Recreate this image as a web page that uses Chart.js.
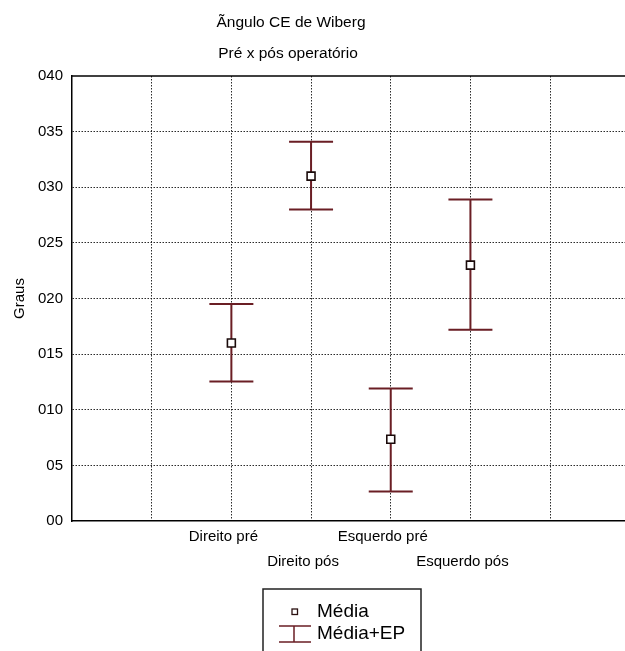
<!DOCTYPE html>
<html>
<head>
<meta charset="utf-8">
<script src="https://cdn.jsdelivr.net/npm/chart.js@4"></script>
<style>
html,body{margin:0;padding:0;overflow:hidden;background:#fff;}
canvas{display:block;}
</style>
</head>
<body>
<canvas id="c" width="637" height="651"></canvas>
<script>
const titleText = 'Ãngulo CE de Wiberg';
const subtitleText = 'Pré x pós operatório';
const yAxisTitle = 'Graus';
const categories = ['Direito pré', 'Direito pós', 'Esquerdo pré', 'Esquerdo pós'];
const positions = [2, 3, 4, 5];
const means = [16.0, 31.0, 7.35, 23.0];
const upper = [19.5, 34.1, 11.9, 28.9];
const lower = [12.55, 28.0, 2.65, 17.2];
const yTicks = [0, 5, 10, 15, 20, 25, 30, 35, 40];
const legendLabels = ['Média', 'Média+EP'];

const FONT = "'Liberation Sans', Arial, Helvetica, sans-serif";
const BAR_COLOR = '#6a1e24';

const errorBars = {
  id: 'errorBars',
  beforeDatasetsDraw(chart) {
    const {ctx, scales: {x, y}} = chart;
    ctx.save();
    ctx.strokeStyle = BAR_COLOR;
    ctx.lineWidth = 2;
    const half = 22;
    positions.forEach((p, i) => {
      const px = x.getPixelForValue(p);
      const yt = y.getPixelForValue(upper[i]);
      const yb = y.getPixelForValue(lower[i]);
      ctx.beginPath();
      ctx.moveTo(px, yt); ctx.lineTo(px, yb);
      ctx.moveTo(px - half, yt); ctx.lineTo(px + half, yt);
      ctx.moveTo(px - half, yb); ctx.lineTo(px + half, yb);
      ctx.stroke();
    });
    ctx.restore();
  }
};

const decorations = {
  id: 'decorations',
  afterDraw(chart) {
    const {ctx, chartArea} = chart;
    ctx.save();
    ctx.strokeStyle = '#000';
    ctx.lineWidth = 1.5;
    ctx.beginPath();
    ctx.moveTo(chartArea.left, chartArea.top);
    ctx.lineTo(chart.width, chartArea.top);
    ctx.stroke();
    ctx.fillStyle = '#000';
    ctx.textAlign = 'center';
    ctx.textBaseline = 'middle';
    ctx.font = '15.5px ' + FONT;
    ctx.fillText(titleText, 291, 23);
    ctx.fillText(subtitleText, 288, 54);
    // legend
    ctx.strokeStyle = '#222';
    ctx.lineWidth = 1.5;
    ctx.strokeRect(263, 589, 158, 70);
    ctx.lineWidth = 1.3;
    ctx.strokeStyle = '#2a1010';
    ctx.fillStyle = '#fff';
    ctx.fillRect(292, 609, 5.5, 5.5);
    ctx.strokeRect(292, 609, 5.5, 5.5);
    ctx.strokeStyle = BAR_COLOR;
    ctx.lineWidth = 1.5;
    ctx.beginPath();
    ctx.moveTo(279, 626); ctx.lineTo(311, 626);
    ctx.moveTo(279, 642); ctx.lineTo(311, 642);
    ctx.moveTo(294, 626); ctx.lineTo(294, 642);
    ctx.stroke();
    ctx.fillStyle = '#000';
    ctx.textAlign = 'left';
    ctx.font = '19px ' + FONT;
    ctx.fillText(legendLabels[0], 317, 612);
    ctx.fillText(legendLabels[1], 317, 634);
    ctx.restore();
  }
};

new Chart(document.getElementById('c'), {
  type: 'scatter',
  data: {
    datasets: [{
      label: legendLabels[0],
      data: positions.map((p, i) => ({x: p, y: means[i]})),
      pointStyle: 'rect',
      pointRadius: 5.6,
      pointHoverRadius: 5.6,
      backgroundColor: '#fff',
      borderColor: '#1a0a0a',
      borderWidth: 1.6
    }]
  },
  options: {
    responsive: false,
    animation: false,
    layout: {padding: {top: 76, left: 0, right: 0, bottom: 0}},
    plugins: {legend: {display: false}, title: {display: false}, tooltip: {enabled: false}},
    scales: {
      x: {
        type: 'linear',
        min: 0, max: 7,
        afterFit(s) { s.height = 130; },
        afterBuildTicks(s) { s.ticks = [0,1,2,3,4,5,6,7].map(v => ({value: v})); },
        ticks: {
          stepSize: 1,
          autoSkip: false,
          maxRotation: 0,
          padding: 3,
          labelOffset: -8,
          color: '#000',
          font: {family: FONT, size: 15, lineHeight: 1.68},
          callback(v) {
            const i = positions.indexOf(v);
            if (i < 0) return '';
            return i % 2 === 0 ? [categories[i]] : ['', categories[i]];
          }
        },
        grid: {
          drawTicks: false,
          lineWidth: 1,
          color: (c) => (c.tick && (c.tick.value === 0 || c.tick.value === 7)) ? 'rgba(0,0,0,0)' : 'rgba(20,20,20,0.9)'
        },
        border: {display: true, color: '#000', width: 1.5, dash: [1.5, 1.5]}
      },
      y: {
        min: 0, max: 40,
        afterFit(s) { s.width = 72; },
        afterBuildTicks(s) { s.ticks = yTicks.map(v => ({value: v})); },
        ticks: {
          stepSize: 5,
          padding: 9,
          color: '#000',
          font: {family: FONT, size: 15},
          callback(v) { return '0' + v; }
        },
        title: {
          display: true,
          text: yAxisTitle,
          color: '#000',
          font: {family: FONT, size: 15},
          padding: {top: 11, bottom: 0}
        },
        grid: {
          drawTicks: false,
          lineWidth: 1,
          color: (c) => (c.tick && (c.tick.value === 0 || c.tick.value === 40)) ? 'rgba(0,0,0,0)' : 'rgba(20,20,20,0.9)'
        },
        border: {display: true, color: '#000', width: 1.5, dash: [1.5, 1.5]}
      }
    }
  },
  plugins: [errorBars, decorations]
});
</script>
</body>
</html>
